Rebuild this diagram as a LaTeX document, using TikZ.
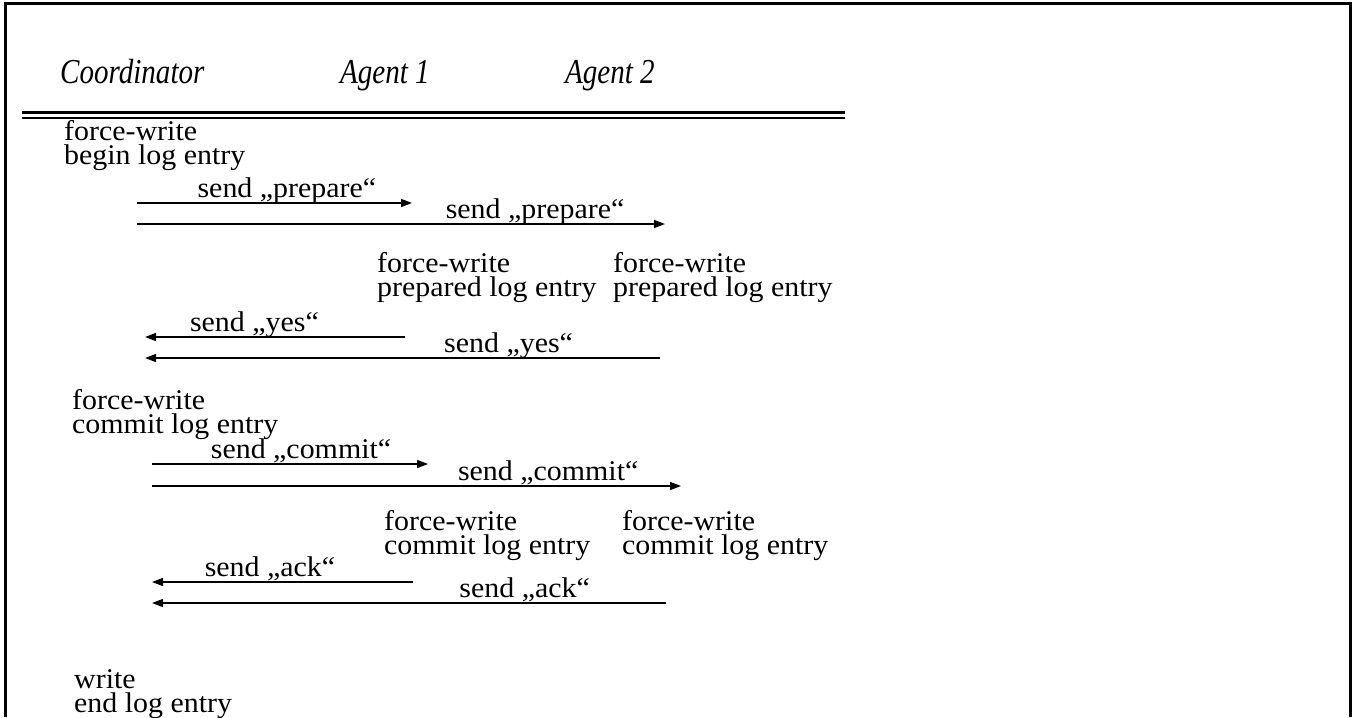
\documentclass[tikz,border=0pt]{standalone}
\usepackage{fontspec}
\setmainfont{Liberation Serif}[FakeStretch=1.05]
\newfontfamily\headfont{Liberation Serif}[FakeStretch=0.83]
\usetikzlibrary{arrows.meta,positioning}

\begin{document}
\begin{tikzpicture}[x=1pt,y=-1pt,
  txt/.style={anchor=north west,inner sep=0pt,align=left,font=\fontsize{28.5}{24}\selectfont},
  head/.style={anchor=base west,inner sep=0pt,font=\headfont\fontsize{35}{36}\selectfont\itshape},
  lbl/.style={anchor=base,inner sep=0pt,yshift=6pt,font=\fontsize{28.5}{24}\selectfont},
  msg/.style={line width=1.5pt,-{Triangle[length=11pt,width=8pt]}}]
  \useasboundingbox (0,0) rectangle (1356,717);
  \draw[line width=3pt] (5,717) -- (5,4) -- (1350,4) -- (1350,717);

  % header
  \node[head] (coord) at (60,83) {Coordinator};
  \node[head] (ag1) at (340,83) {Agent 1};
  \node[head] (ag2) at (565,83) {Agent 2};
  \draw[line width=3pt] (22,112.5) -- (845,112.5);
  \draw[line width=1.5pt] (22,118) -- (845,118);

  % log entries
  \node[txt] (begin) at (64,120) {force-write\\begin log entry};
  \node[txt] (prep1) at (377,252) {force-write\\prepared log entry};
  \node[txt] (prep2) at (613,252) {force-write\\prepared log entry};
  \node[txt] (comc) at (72,389) {force-write\\commit log entry};
  \node[txt] (com1) at (384,510) {force-write\\commit log entry};
  \node[txt] (com2) at (622,510) {force-write\\commit log entry};
  \node[txt] (endc) at (74,669) {write\\end log entry};

  % message ends
  \coordinate (c1) at (137,203);  \coordinate (a1) at (412,203);
  \coordinate (c2) at (137,224);  \coordinate (a2) at (665,224);
  \coordinate (c3) at (145,337);  \coordinate (a3) at (405,337);
  \coordinate (c4) at (145,358);  \coordinate (a4) at (660,358);
  \coordinate (c5) at (152,464);  \coordinate (a5) at (428,464);
  \coordinate (c6) at (152,486);  \coordinate (a6) at (681,486);
  \coordinate (c7) at (152,582);  \coordinate (a7) at (413,582);
  \coordinate (c8) at (152,603);  \coordinate (a8) at (666,603);

  % messages
  \draw[msg] (c1) -- node[lbl,pos=0.545] (m1) {send „prepare“} (a1);
  \draw[msg] (c2) -- node[lbl,pos=0.754] (m2) {send „prepare“} (a2);
  \draw[msg] (a3) -- node[lbl,pos=0.579] (m3) {send „yes“} (c3);
  \draw[msg] (a4) -- node[lbl,pos=0.294] (m4) {send „yes“} (c4);
  \draw[msg] (c5) -- node[lbl,pos=0.54] (m5) {send „commit“} (a5);
  \draw[msg] (c6) -- node[lbl,pos=0.749] (m6) {send „commit“} (a6);
  \draw[msg] (a7) -- node[lbl,pos=0.548] (m7) {send „ack“} (c7);
  \draw[msg] (a8) -- node[lbl,pos=0.275] (m8) {send „ack“} (c8);
\end{tikzpicture}
\end{document}
